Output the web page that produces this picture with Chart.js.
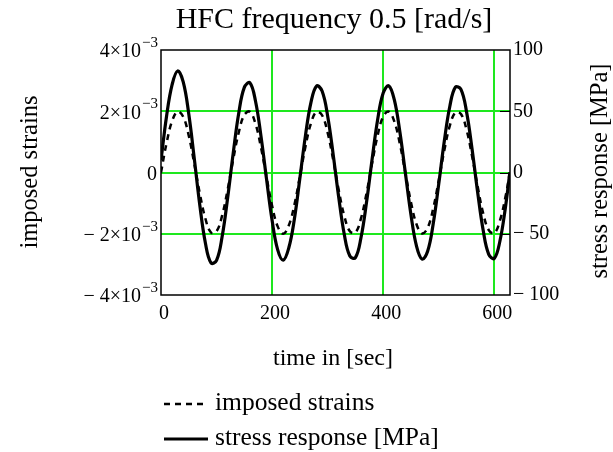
<!DOCTYPE html>
<html>
<head>
<meta charset="utf-8">
<script src="https://cdn.jsdelivr.net/npm/chart.js@4.4.0/dist/chart.umd.min.js"></script>
<style>
  body { margin: 0; background: #fff; }
</style>
</head>
<body>
<canvas id="hfc-chart" width="613" height="452"></canvas>
<script>
// time axis samples [sec]
var timeSec = [0, 10, 20, 30, 40, 50, 60, 70, 80, 90,
    100, 110, 120, 130, 140, 150, 160, 170, 180, 190,
    200, 210, 220, 230, 240, 250, 260, 270, 280, 290,
    300, 310, 320, 330, 340, 350, 360, 370, 380, 390,
    400, 410, 420, 430, 440, 450, 460, 470, 480, 490,
    500, 510, 520, 530, 540, 550, 560, 570, 580, 590,
    600, 610, 620, 628];

// imposed strains in units of 1e-3
var strainMilli = [0, 0.96, 1.68, 1.99, 1.82, 1.20, 0.28, -0.70, -1.51, -1.96,
    -1.92, -1.41, -0.56, 0.43, 1.31, 1.88, 1.98, 1.60, 0.82, -0.15,
    -1.09, -1.76, -2.00, -1.73, -1.07, -0.13, 0.84, 1.61, 1.98, 1.87,
    1.30, 0.41, -0.58, -1.42, -1.92, -1.96, -1.50, -0.68, 0.30, 1.21,
    1.83, 1.99, 1.67, 0.94, -0.02, -0.97, -1.69, -1.99, -1.81, -1.18,
    -0.26, 0.72, 1.53, 1.96, 1.91, 1.40, 0.54, -0.45, -1.33, -1.88,
    -1.98, -1.58, -0.81, 0];

// stress response [MPa]
var stressMPa = [10, 46, 71.7, 82.9, 73.9, 47.7, 11.1, -27.1, -57.8, -73.8,
    -71.7, -52.4, -20.6, 15.8, 48.5, 69.5, 73.2, 58.6, 29.7, -5.4,
    -39.0, -63.0, -71.5, -61.6, -38.3, -4.7, 29.9, 57.2, 70.6, 66.5,
    46.2, 14.6, -20.4, -50.6, -68.2, -69.5, -53.3, -24.3, 10.6, 43.0,
    64.8, 70.8, 59.4, 33.2, -0.6, -34.5, -60.1, -70.7, -64.3, -42.0,
    -9.4, 25.5, 54.1, 69.6, 67.9, 49.7, 19.2, -15.9, -47.1, -66.8,
    -70.1, -56.3, -28.7, 0];

// tick labels
var xTicks = [0, 200, 400, 600];
var strainTicks = [4, 2, 0, -2, -4];          // x 1e-3
var strainTickText = ['4', '2', '0', '\u2212 2', '\u2212 4'];
var stressTicks = [100, 50, 0, -50, -100];

var titleText = 'HFC frequency 0.5 [rad/s]';
var xTitle = 'time in [sec]';
var leftTitle = 'imposed strains';
var rightTitle = 'stress response [MPa]';

var SERIF = '"Liberation Serif", "Times New Roman", serif';
var GRID_GREEN = '#1ee81e';

function pairs(xs, ys, k) {
    return xs.map(function(x, i) { return { x: x, y: ys[i] * k }; });
}

var decorPlugin = {
    id: 'decor',
    beforeDatasetsDraw: function(chart) {
        var ctx = chart.ctx;
        var a = chart.chartArea;
        var yr = chart.scales.y2;
        ctx.save();
        ctx.strokeStyle = '#000';
        ctx.lineWidth = 1.5;
        ctx.strokeRect(a.left, a.top, a.right - a.left, a.bottom - a.top);
        // small inner ticks on the right axis
        ctx.lineWidth = 1;
        stressTicks.forEach(function(v) {
            if (Math.abs(v) === 100) return;
            var py = Math.round(yr.getPixelForValue(v)) + 0.5;
            ctx.beginPath();
            ctx.moveTo(a.right - 10, py);
            ctx.lineTo(a.right, py);
            ctx.stroke();
        });
        ctx.restore();
    },
    afterDraw: function(chart) {
        var ctx = chart.ctx;
        var yl = chart.scales.y;
        ctx.save();
        ctx.fillStyle = '#000';

        // title
        ctx.font = '30px ' + SERIF;
        ctx.textAlign = 'center';
        ctx.textBaseline = 'alphabetic';
        ctx.fillText(titleText, 334, 28);

        // x axis title
        ctx.font = '24px ' + SERIF;
        ctx.textBaseline = 'middle';
        ctx.fillText(xTitle, 333, 359);

        // left axis title
        ctx.font = '24.5px ' + SERIF;
        ctx.save();
        ctx.translate(31, 172);
        ctx.rotate(-Math.PI / 2);
        ctx.fillText(leftTitle, 0, 0);
        ctx.restore();

        // right axis title
        ctx.save();
        ctx.translate(601, 171);
        ctx.rotate(-Math.PI / 2);
        ctx.fillText(rightTitle, 0, 0);
        ctx.restore();

        // left tick labels with superscript exponent
        ctx.textAlign = 'right';
        strainTicks.forEach(function(v, i) {
            var py = yl.getPixelForValue(v * 1e-3) + 2;
            var rx = 158;
            if (v === 0) {
                ctx.font = '20px ' + SERIF;
                ctx.textBaseline = 'middle';
                ctx.fillText('0', rx - 1, py);
                return;
            }
            ctx.font = '15px ' + SERIF;
            ctx.textBaseline = 'middle';
            var sup = '\u22123';
            ctx.fillText(sup, rx, py - 9);
            var w = ctx.measureText(sup).width;
            ctx.font = '20px ' + SERIF;
            ctx.fillText(strainTickText[i] + '\u00d710', rx - w - 1, py);
        });

        // legend
        ctx.textAlign = 'left';
        ctx.textBaseline = 'middle';
        ctx.font = '25.5px ' + SERIF;
        var rows = [403, 438];
        chart.data.datasets.forEach(function(ds, i) {
            var ly = rows[i];
            ctx.save();
            ctx.strokeStyle = ds.borderColor;
            ctx.lineWidth = ds.borderWidth;
            ctx.setLineDash(ds.borderDash || []);
            ctx.beginPath();
            ctx.moveTo(164, ly + 1);
            ctx.lineTo(208, ly + 1);
            ctx.stroke();
            ctx.restore();
            ctx.fillText(ds.label, 215, ly);
        });
        ctx.restore();
    }
};

var ctx = document.getElementById('hfc-chart').getContext('2d');
var hfcChart = new Chart(ctx, {
    type: 'line',
    data: {
        datasets: [{
            label: 'imposed strains',
            data: pairs(timeSec, strainMilli, 1e-3),
            yAxisID: 'y',
            borderColor: '#000',
            borderWidth: 2.5,
            borderDash: [6, 5],
            pointRadius: 0,
            tension: 0.4,
            fill: false
        }, {
            label: 'stress response [MPa]',
            data: pairs(timeSec, stressMPa, 1),
            yAxisID: 'y2',
            borderColor: '#000',
            borderWidth: 3.2,
            pointRadius: 0,
            tension: 0.4,
            fill: false
        }]
    },
    options: {
        responsive: false,
        animation: false,
        layout: { padding: { top: 50, left: 0, right: 0, bottom: 0 } },
        plugins: {
            legend: { display: false },
            title: { display: false },
            tooltip: { enabled: false }
        },
        scales: {
            x: {
                type: 'linear',
                min: 0,
                max: 628.3,
                afterFit: function(scale) { scale.height = 157; },
                afterBuildTicks: function(scale) {
                    scale.ticks = xTicks.map(function(v) { return { value: v }; });
                },
                border: { display: false },
                grid: {
                    drawTicks: false,
                    lineWidth: 2,
                    color: function(c) {
                        return (c.tick && c.tick.value === 0) ? 'rgba(0,0,0,0)' : GRID_GREEN;
                    }
                },
                ticks: {
                    padding: 7,
                    labelOffset: 3,
                    color: '#000',
                    font: { family: SERIF, size: 20 }
                }
            },
            y: {
                position: 'left',
                min: -4e-3,
                max: 4e-3,
                afterFit: function(scale) { scale.width = 161; },
                afterBuildTicks: function(scale) {
                    scale.ticks = strainTicks.map(function(v) { return { value: v * 1e-3 }; });
                },
                border: { display: false },
                grid: {
                    drawTicks: false,
                    lineWidth: 2,
                    color: function(c) {
                        return (c.tick && Math.abs(c.tick.value) > 3e-3) ? 'rgba(0,0,0,0)' : GRID_GREEN;
                    }
                },
                ticks: { display: false }
            },
            y2: {
                position: 'right',
                min: -100,
                max: 100,
                afterFit: function(scale) { scale.width = 103; },
                afterBuildTicks: function(scale) {
                    scale.ticks = stressTicks.map(function(v) { return { value: v }; });
                },
                border: { display: false },
                grid: { display: false, drawTicks: false },
                ticks: {
                    padding: 3,
                    color: '#000',
                    font: { family: SERIF, size: 20 },
                    callback: function(v) {
                        return v < 0 ? '\u2212 ' + (-v) : String(v);
                    }
                }
            }
        }
    },
    plugins: [decorPlugin]
});
</script>
</body>
</html>
